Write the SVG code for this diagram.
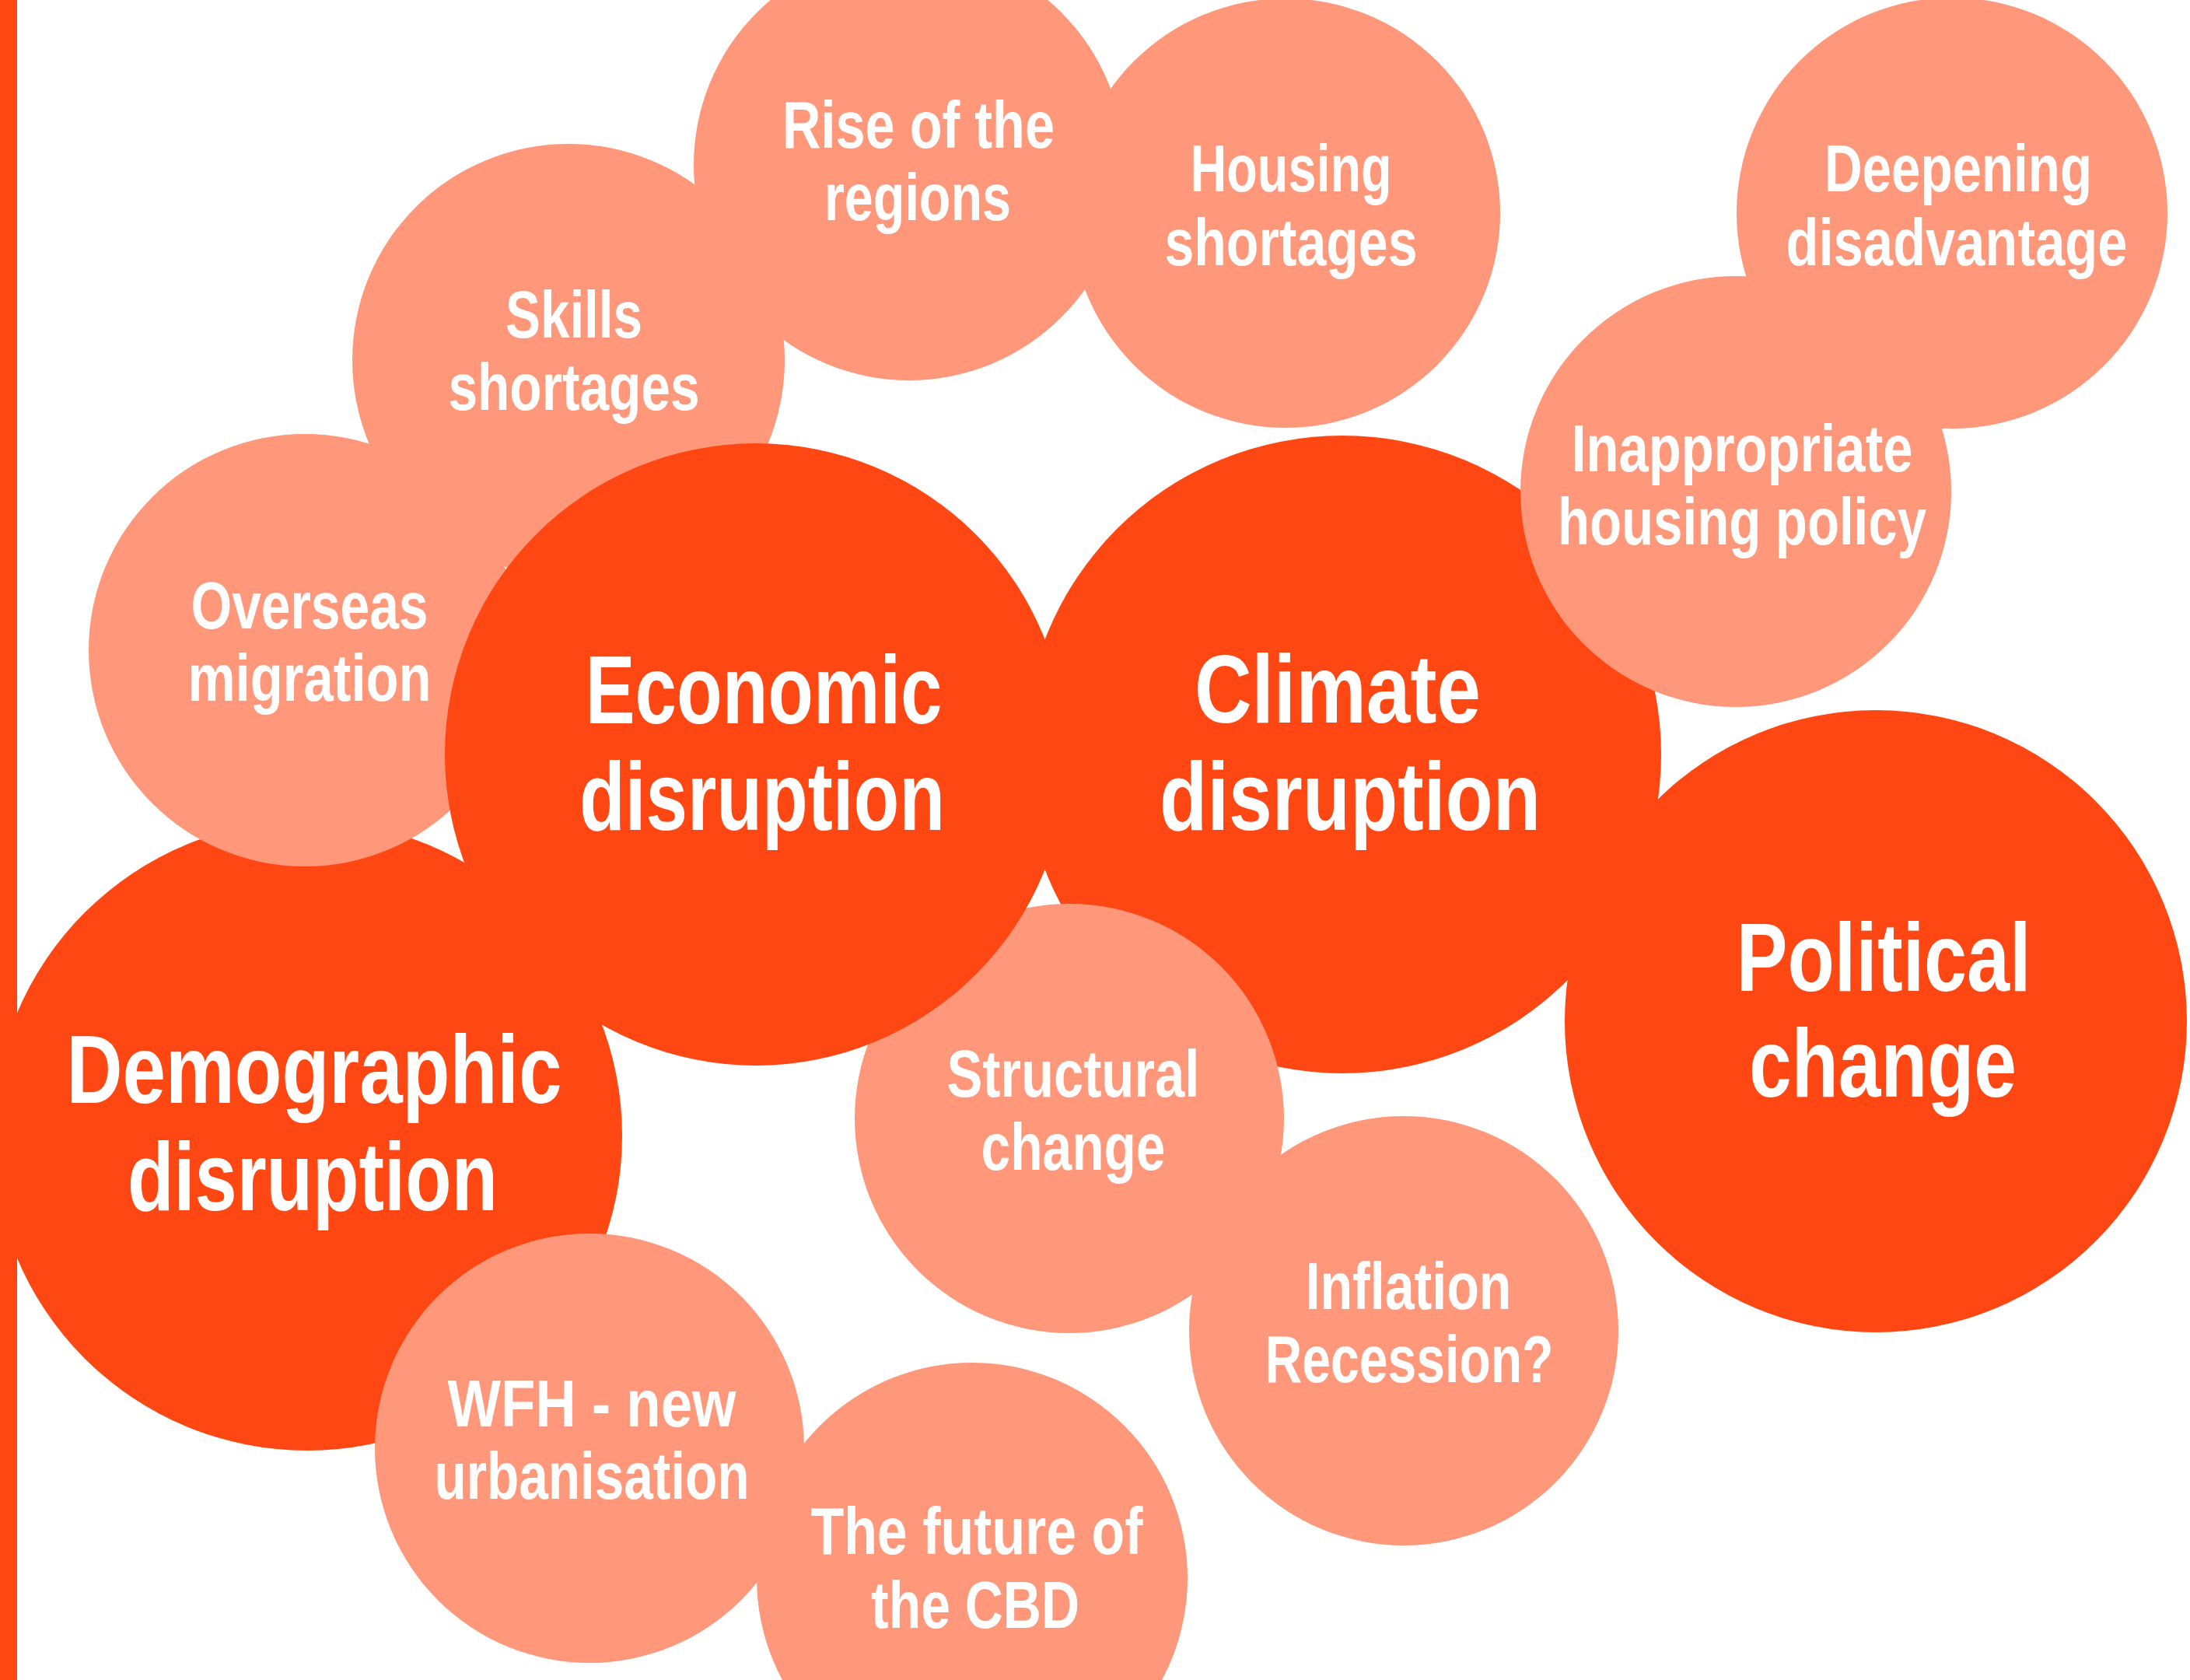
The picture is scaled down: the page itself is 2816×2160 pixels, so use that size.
<svg xmlns="http://www.w3.org/2000/svg" width="2816" height="2160" viewBox="0 0 2816 2160">
<style>
.big{fill:#FF4713}
.small{fill:#FF987A}
.t{font-family:"Liberation Sans Narrow","Liberation Sans",Arial,sans-serif;font-weight:bold;fill:#FFFFFF;text-anchor:middle}
.ts{font-size:86px}
.tb{font-size:125px}
</style>
<rect x="0" y="0" width="2816" height="2160" fill="#FFFFFF"/>
<rect id="left-bar" class="big" x="0" y="0" width="22" height="2160"/>
<g id="connectors"/>
<g id="demographic">
<circle class="big" cx="395" cy="1460" r="405"/>
<text class="t tb" x="404" y="1418" textLength="637" lengthAdjust="spacingAndGlyphs">Demographic</text>
<text class="t tb" x="402" y="1556" textLength="476" lengthAdjust="spacingAndGlyphs">disruption</text>
</g>
<g id="climate">
<circle class="big" cx="1726" cy="970" r="410"/>
<text class="t tb" x="1720" y="929" textLength="368" lengthAdjust="spacingAndGlyphs">Climate</text>
<text class="t tb" x="1736" y="1067" textLength="490" lengthAdjust="spacingAndGlyphs">disruption</text>
</g>
<g id="political">
<circle class="big" cx="2412" cy="1313" r="400"/>
<text class="t tb" x="2422" y="1274" textLength="379" lengthAdjust="spacingAndGlyphs">Political</text>
<text class="t tb" x="2421" y="1410" textLength="344" lengthAdjust="spacingAndGlyphs">change</text>
</g>
<g id="overseas">
<circle class="small" cx="392" cy="836" r="278"/>
<text class="t ts" x="398" y="808" textLength="305" lengthAdjust="spacingAndGlyphs">Overseas</text>
<text class="t ts" x="398" y="901" textLength="313" lengthAdjust="spacingAndGlyphs">migration</text>
</g>
<g id="skills">
<circle class="small" cx="731" cy="463" r="278"/>
<text class="t ts" x="738" y="434" textLength="176" lengthAdjust="spacingAndGlyphs">Skills</text>
<text class="t ts" x="738" y="527" textLength="323" lengthAdjust="spacingAndGlyphs">shortages</text>
</g>
<g id="structural">
<circle class="small" cx="1375" cy="1438" r="276"/>
<text class="t ts" x="1380" y="1410" textLength="325" lengthAdjust="spacingAndGlyphs">Structural</text>
<text class="t ts" x="1380" y="1504" textLength="237" lengthAdjust="spacingAndGlyphs">change</text>
</g>
<g id="inappropriate">
<circle class="small" cx="2232" cy="632" r="277"/>
<text class="t ts" x="2240" y="606" textLength="439" lengthAdjust="spacingAndGlyphs">Inappropriate</text>
<text class="t ts" x="2240" y="700" textLength="474" lengthAdjust="spacingAndGlyphs">housing policy</text>
</g>
<g id="wfh">
<circle class="small" cx="758" cy="1862" r="276"/>
<text class="t ts" x="761" y="1834" textLength="371" lengthAdjust="spacingAndGlyphs">WFH - new</text>
<text class="t ts" x="761" y="1927" textLength="405" lengthAdjust="spacingAndGlyphs">urbanisation</text>
</g>
<g id="economic">
<circle class="big" cx="972" cy="970" r="400"/>
<text class="t tb" x="982" y="930" textLength="459" lengthAdjust="spacingAndGlyphs">Economic</text>
<text class="t tb" x="980" y="1067" textLength="470" lengthAdjust="spacingAndGlyphs">disruption</text>
</g>
<g id="rise">
<circle class="small" cx="1169" cy="212" r="277"/>
<text class="t ts" x="1181" y="190" textLength="350" lengthAdjust="spacingAndGlyphs">Rise of the</text>
<text class="t ts" x="1180" y="283" textLength="240" lengthAdjust="spacingAndGlyphs">regions</text>
</g>
<g id="housing">
<circle class="small" cx="1653" cy="274" r="276"/>
<text class="t ts" x="1660" y="246" textLength="259" lengthAdjust="spacingAndGlyphs">Housing</text>
<text class="t ts" x="1660" y="341" textLength="325" lengthAdjust="spacingAndGlyphs">shortages</text>
</g>
<g id="deepening">
<circle class="small" cx="2510" cy="274" r="277"/>
<text class="t ts" x="2518" y="246" textLength="344" lengthAdjust="spacingAndGlyphs">Deepening</text>
<text class="t ts" x="2516" y="341" textLength="439" lengthAdjust="spacingAndGlyphs">disadvantage</text>
</g>
<g id="inflation">
<circle class="small" cx="1805" cy="1711" r="276"/>
<text class="t ts" x="1811" y="1683" textLength="265" lengthAdjust="spacingAndGlyphs">Inflation</text>
<text class="t ts" x="1812" y="1777" textLength="371" lengthAdjust="spacingAndGlyphs">Recession?</text>
</g>
<g id="cbd">
<circle class="small" cx="1250" cy="2029" r="277"/>
<text class="t ts" x="1256" y="1998" textLength="427" lengthAdjust="spacingAndGlyphs">The future of</text>
<text class="t ts" x="1254" y="2093" textLength="268" lengthAdjust="spacingAndGlyphs">the CBD</text>
</g>
</svg>
